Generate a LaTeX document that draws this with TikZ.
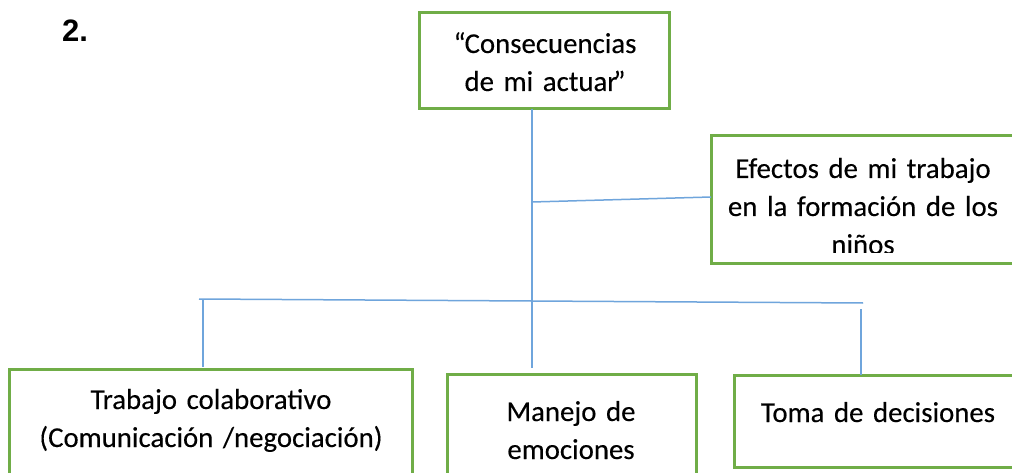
\documentclass[tikz,border=0pt]{standalone}
\usepackage{fontspec}
\setmainfont{Carlito}
\newfontfamily\numfont{Liberation Sans}
\definecolor{boxgreen}{HTML}{70AD47}
\definecolor{lineblue}{HTML}{6FA5DC}
\begin{document}
\begin{tikzpicture}[x=1pt,y=-1pt,
  boxframe/.style={draw=boxgreen,line width=3pt,fill=none},
  conn/.style={draw=lineblue,line width=1.5pt},
  lbl/.style={font=\fontsize{28.8}{38}\selectfont\addfontfeature{FakeBold=0.25},align=center,inner sep=0pt,anchor=base,text width=400pt},
]
\clip (0,0) rectangle (1012,473);
\fill[white] (0,0) rectangle (1012,473);

% number
\node[anchor=base west,inner sep=0pt,font=\numfont\bfseries\fontsize{31}{36}\selectfont] (num) at (62,42) {2.};

% top box
\path[boxframe] (419,13) rectangle (669,109);
\coordinate (topS) at (532,109);
\node[lbl] (toptxt) at (545,53) {“\kern-1pt Consecuencias\\de mi actuar\kern-4pt”};

% efectos box with clipped text
\begin{scope}
\clip (712.5,137.5) rectangle (1016,252);
\node[lbl] (eftxt) at (863,178) {Efectos de mi trabajo\\en la formación de los\\niños};
\end{scope}
\path[boxframe] (711,136) rectangle (1030,263);
\coordinate (efW) at (711,197);

% bottom boxes
\path[boxframe] (9,369) rectangle (412,500);
\node[lbl] (lefttxt) at (211,409) {Trabajo colaborativo\\(Comunicación /negociación)};
\coordinate (leftN) at (203,367);

\path[boxframe] (447,374) rectangle (696,500);
\node[lbl] (midtxt) at (571,421) {Manejo de\\emociones};
\coordinate (midN) at (532,368);

\path[boxframe] (734,375) rectangle (1030,467);
\node[lbl] (righttxt) at (878,422) {Toma de decisiones};
\coordinate (rightN) at (861,375);

% connectors
\coordinate (trunkA) at (532,202);
\coordinate (barL) at (199,299);
\coordinate (barR) at (863,303);
\coordinate (leftT) at (203,300);
\coordinate (rightT) at (861,309);
\draw[conn] (topS) -- (midN);
\draw[conn] (trunkA) -- (efW);
\draw[conn] (barL) -- (barR);
\draw[conn] (leftT) -- (leftN);
\draw[conn] (rightT) -- (rightN);
\end{tikzpicture}
\end{document}
